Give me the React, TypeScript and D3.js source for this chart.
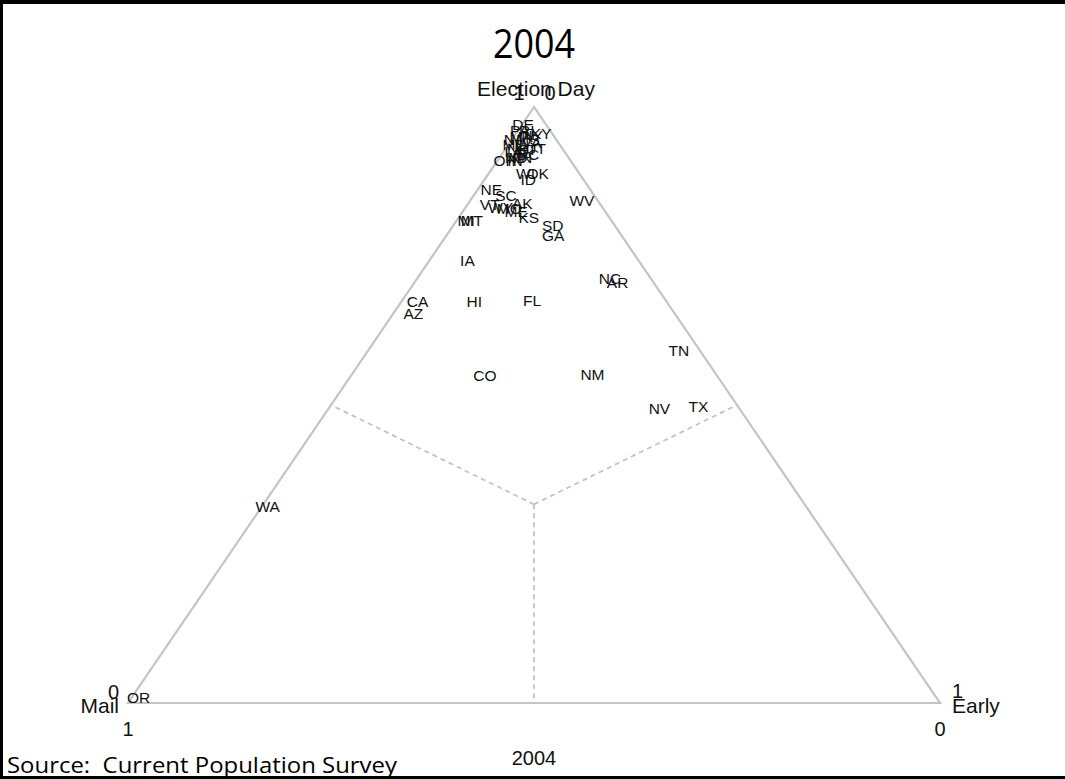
import { useEffect, useRef } from "react";
import * as d3 from "d3";

// state abbreviations, share voting on election day, share voting early (mail = rest)
const states = [
  "WA", "OR", "CA", "AZ", "HI", "FL", "IA", "CO", "NM", "NV", "TX", "TN", "NC",
  "AR", "WV", "SD", "GA", "KS", "ME", "MO", "AK", "VT", "WY", "NE", "SC", "MI",
  "MT", "ID", "WI", "OK", "OH", "IN", "DE", "KY", "PA", "RI", "NY", "MA", "NJ",
  "MS", "MD", "IL", "VA", "NH", "CT", "UT", "LA", "AL", "DC", "ND", "MN",
];
const electionDay = [
  0.33, 0.01, 0.673, 0.653, 0.673, 0.675, 0.742, 0.549, 0.552, 0.495, 0.497, 0.591, 0.713,
  0.706, 0.844, 0.802, 0.785, 0.815, 0.824, 0.829, 0.839, 0.837, 0.832, 0.861, 0.851, 0.809,
  0.809, 0.878, 0.889, 0.889, 0.911, 0.911, 0.971, 0.956, 0.961, 0.96, 0.953, 0.95, 0.945,
  0.945, 0.938, 0.936, 0.94, 0.931, 0.928, 0.93, 0.925, 0.923, 0.921, 0.916, 0.916,
];
const early = [
  0.007, 0.008, 0.02, 0.025, 0.09, 0.16, 0.047, 0.165, 0.296, 0.407, 0.454, 0.383, 0.237,
  0.25, 0.137, 0.122, 0.131, 0.086, 0.066, 0.055, 0.066, 0.027, 0.043, 0.017, 0.04, 0.012,
  0.019, 0.054, 0.045, 0.06, 0.009, 0.021, 0.001, 0.031, 0.002, 0.011, 0.021, 0.009, 0.002,
  0.02, 0.007, 0.016, 0.027, 0.015, 0.027, 0.037, 0.013, 0.023, 0.032, 0.02, 0.025,
];

const title = "2004";
const source = "Source:  Current Population Survey";

const W = 1065;
const H = 779;

const App = () => {
  const ref = useRef<SVGSVGElement>(null);

  useEffect(() => {
    const svg = d3.select(ref.current);
    svg.selectAll("*").remove();

    // vertical: election day share, horizontal: early minus mail
    const y = d3.scaleLinear().domain([0, 1]).range([703, 107]);
    const x = d3.scaleLinear().domain([-1, 1]).range([128, 940]);
    const pos = (e: number, r: number): [number, number] => {
      const m = 1 - e - r;
      return [x(r - m), y(e)];
    };

    const font = "'Liberation Sans', Arial, sans-serif";

    svg.append("rect").attr("width", W).attr("height", H).attr("fill", "#fff");

    // slide frame
    const frame = svg.append("g").attr("fill", "#000");
    frame.append("rect").attr("x", 0).attr("y", 0).attr("width", W).attr("height", 4);
    frame.append("rect").attr("x", 0).attr("y", 0).attr("width", 3).attr("height", H);
    frame.append("rect").attr("x", 0).attr("y", H - 3).attr("width", W).attr("height", 3);

    // dashed guides from the centre to each edge midpoint
    const c = pos(1 / 3, 1 / 3);
    const mids = [pos(0.5, 0), pos(0.5, 0.5), pos(0, 0.5)];
    svg
      .append("g")
      .selectAll("line")
      .data(mids)
      .join("line")
      .attr("x1", c[0])
      .attr("y1", c[1])
      .attr("x2", (d) => d[0])
      .attr("y2", (d) => d[1])
      .attr("stroke", "#c4c4c4")
      .attr("stroke-width", 1.8)
      .attr("stroke-dasharray", "5,4");

    // triangle outline
    const verts = [pos(1, 0), pos(0, 0), pos(0, 1)];
    svg
      .append("path")
      .attr("d", d3.line()(verts) + "Z")
      .attr("fill", "none")
      .attr("stroke", "#c4c4c4")
      .attr("stroke-width", 2.2);

    // corner titles and tick labels
    const big = svg.append("g").attr("font-family", font).attr("font-size", 20).attr("fill", "#111");
    const [ax, ay] = verts[0];
    const [mx, my] = verts[1];
    const [ex, ey] = verts[2];
    big.append("text").attr("x", ax - 15).attr("y", ay - 7).attr("text-anchor", "middle").text("1");
    big.append("text").attr("x", ax + 16).attr("y", ay - 7).attr("text-anchor", "middle").text("0");
    big.append("text").attr("x", ax + 2).attr("y", ay - 11).attr("text-anchor", "middle").attr("font-size", 21).text("Election Day");

    big.append("text").attr("x", mx - 9).attr("y", my - 4).attr("text-anchor", "end").text("0");
    big.append("text").attr("x", mx - 9).attr("y", my + 10).attr("text-anchor", "end").attr("font-size", 21).text("Mail");
    big.append("text").attr("x", mx).attr("y", my + 33).attr("text-anchor", "middle").text("1");

    big.append("text").attr("x", ex + 12).attr("y", ey - 5).attr("text-anchor", "start").text("1");
    big.append("text").attr("x", ex + 12).attr("y", ey + 10).attr("text-anchor", "start").attr("font-size", 21).text("Early");
    big.append("text").attr("x", ex).attr("y", ey + 33).attr("text-anchor", "middle").text("0");

    // state labels
    svg
      .append("g")
      .attr("font-family", font)
      .attr("font-size", 15.5)
      .attr("fill", "#111")
      .attr("text-anchor", "middle")
      .selectAll("text")
      .data(states)
      .join("text")
      .attr("x", (d, i) => pos(electionDay[i], early[i])[0])
      .attr("y", (d, i) => pos(electionDay[i], early[i])[1])
      .attr("dy", "0.36em")
      .text((d) => d);

    // note / caption
    svg
      .append("text")
      .attr("x", 534)
      .attr("y", 765)
      .attr("text-anchor", "middle")
      .attr("font-family", font)
      .attr("font-size", 20)
      .attr("fill", "#111")
      .text(title);

    svg
      .append("text")
      .attr("x", 534)
      .attr("y", 58)
      .attr("text-anchor", "middle")
      .attr("font-family", "'Open Sans', sans-serif")
      .attr("font-size", 40)
      .attr("textLength", 82)
      .attr("lengthAdjust", "spacingAndGlyphs")
      .attr("fill", "#000")
      .text(title);

    svg
      .append("text")
      .attr("x", 7)
      .attr("y", 773)
      .attr("font-family", "'Open Sans', sans-serif")
      .attr("font-size", 21)
      .attr("textLength", 390)
      .attr("lengthAdjust", "spacingAndGlyphs")
      .attr("fill", "#000")
      .style("white-space", "pre")
      .text(source);
  }, []);

  return (
    <svg
      ref={ref}
      width={W}
      height={H}
      style={{ position: "absolute", left: 0, top: 0, display: "block" }}
    />
  );
};

export default App;
